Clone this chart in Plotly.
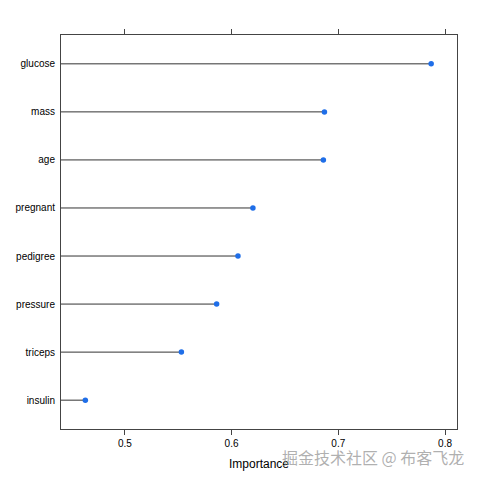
import plotly.graph_objects as go

features = ["glucose", "mass", "age", "pregnant", "pedigree", "pressure", "triceps", "insulin"]
importance = [0.787, 0.687, 0.686, 0.620, 0.606, 0.586, 0.553, 0.463]
x_ticks = [0.5, 0.6, 0.7, 0.8]
x_range = [0.4402, 0.8112]

# line segments from the panel's left edge to each point
lx, ly = [], []
for f, v in zip(features, importance):
    lx += [x_range[0], v, None]
    ly += [f, f, None]

fig = go.Figure()
fig.add_trace(go.Scatter(x=lx, y=ly, mode="lines",
                         line=dict(color="#333333", width=1), hoverinfo="skip", showlegend=False))
fig.add_trace(go.Scatter(x=importance, y=features, mode="markers",
                         marker=dict(color="#1f6ee8", size=5.5), showlegend=False))

fig.update_layout(
    width=480, height=480,
    margin=dict(l=53, r=31, t=27, b=59),
    paper_bgcolor="white", plot_bgcolor="white",
    font=dict(family="Liberation Sans, Arial, sans-serif", color="black", size=10),
    xaxis=dict(range=x_range, tickvals=x_ticks, ticktext=[str(t) for t in x_ticks],
               ticks="outside", ticklen=5, tickcolor="#444", showgrid=False, zeroline=False,
               showline=True, linecolor="#444", linewidth=1, mirror="ticks", automargin=False,
               title=dict(text="Importance", font=dict(size=12), standoff=11),
               tickfont=dict(size=10)),
    yaxis=dict(type="category", categoryorder="array", categoryarray=features[::-1],
               range=[-0.6, len(features) - 0.4], showgrid=False, zeroline=False,
               showline=True, linecolor="#444", linewidth=1, mirror=True, ticks="",
               automargin=False, ticklabelstandoff=3, tickfont=dict(size=10)),
)

fig.add_annotation(text="掘金技术社区 @ 布客飞龙", xref="paper", yref="paper",
                   x=1.023, y=-0.071, xanchor="right", yanchor="middle", showarrow=False,
                   font=dict(family="Noto Sans CJK SC", size=16, color="rgba(150,150,150,0.75)"))

fig.write_html("out.html")
